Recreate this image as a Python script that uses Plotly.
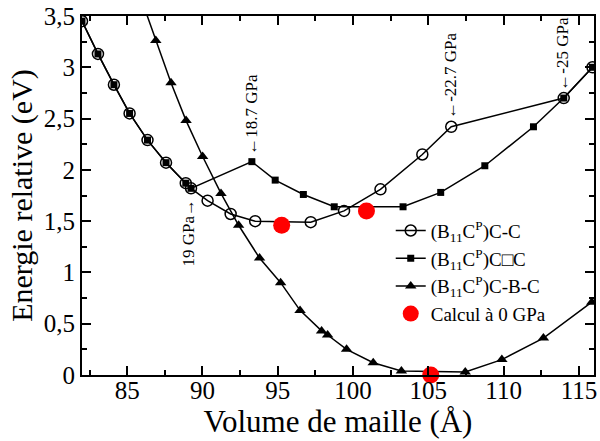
import plotly.graph_objects as go

# ---- data ----
cc_x = [82.0, 83.06, 84.12, 85.16, 86.35, 87.58, 88.89, 89.24, 90.34, 91.87,
        93.50, 97.19, 99.40, 101.82, 104.60, 106.52, 113.99, 115.9]
cc_y = [3.45, 3.13, 2.83, 2.55, 2.29, 2.07, 1.87, 1.82, 1.70, 1.57,
        1.50, 1.49, 1.60, 1.81, 2.15, 2.42, 2.70, 3.00]

cvc_x = [82.0, 83.06, 84.12, 85.16, 86.35, 87.58, 88.89, 89.24, 93.28, 94.83,
         96.70, 98.75, 103.32, 105.82, 108.75, 111.98, 113.99, 115.9]
cvc_y = [3.45, 3.13, 2.83, 2.55, 2.29, 2.07, 1.87, 1.82, 2.08, 1.90,
         1.76, 1.64, 1.64, 1.78, 2.04, 2.42, 2.70, 3.00]

cbc_x = [85.9, 86.90, 87.91, 88.91, 90.01, 91.23, 92.40, 93.79, 95.19, 96.48,
         97.91, 98.31, 99.57, 101.34, 103.21, 107.45, 109.88, 112.64, 115.85]
cbc_y = [3.68, 3.26, 2.85, 2.48, 2.13, 1.77, 1.46, 1.14, 0.90, 0.63,
         0.43, 0.39, 0.25, 0.12, 0.04, 0.03, 0.15, 0.36, 0.71]

calc_x = [95.26, 100.89, 105.16]
calc_y = [1.46, 1.60, 0.0]

ann_text = ["19 GPa\u2192", "\u219018.7 GPa", "\u2190-22.7 GPa", "\u2190-25 GPa"]
ann_x = [89.04, 93.24, 106.46, 113.92]
ann_y = [1.39, 2.54, 2.92, 3.13]

x_ticks = [85, 90, 95, 100, 105, 110, 115]
y_ticks = [0, 0.5, 1, 1.5, 2, 2.5, 3, 3.5]
y_ticklabels = ["0", "0,5", "1", "1,5", "2", "2,5", "3", "3,5"]

FONT = "Liberation Serif"

fig = go.Figure()
fig.add_trace(go.Scatter(
    x=cc_x, y=cc_y, mode="lines+markers",
    name="(B<sub>11</sub>C<sup>P</sup>)C-C",
    line=dict(color="black", width=1.5),
    marker=dict(symbol="circle-open", size=11, color="black", line=dict(width=1.5)),
))
fig.add_trace(go.Scatter(
    x=cvc_x, y=cvc_y, mode="lines+markers",
    name="(B<sub>11</sub>C<sup>P</sup>)C\u25a1C",
    line=dict(color="black", width=1.5),
    marker=dict(symbol="square", size=7, color="black"),
))
fig.add_trace(go.Scatter(
    x=cbc_x, y=cbc_y, mode="lines+markers",
    name="(B<sub>11</sub>C<sup>P</sup>)C-B-C",
    line=dict(color="black", width=1.5),
    marker=dict(symbol="triangle-up", size=10, color="black"),
))
fig.add_trace(go.Scatter(
    x=calc_x, y=calc_y, mode="markers",
    name="Calcul \u00e0 0 GPa",
    marker=dict(symbol="circle", size=17, color="#ff0000"),
    cliponaxis=False,
))

for t, x, y in zip(ann_text, ann_x, ann_y):
    fig.add_annotation(x=x, y=y, xref="x", yref="y", text=t, showarrow=False,
                       textangle=-90, font=dict(family=FONT, size=17, color="black"))

axis_common = dict(
    showline=True, linecolor="black", linewidth=2, mirror="allticks",
    ticks="inside", tickcolor="black", tickwidth=1.5, ticklen=9,
    showgrid=False, zeroline=False, automargin=False,
    tickfont=dict(family=FONT, size=25, color="black"),
)

fig.update_xaxes(
    range=[82, 116], tickvals=x_ticks, ticklabelstandoff=-8,
    minor=dict(ticks="inside", dtick=2.5, ticklen=5, tickcolor="black", tickwidth=1.5),
    title=dict(text="Volume de maille (\u00c5)", font=dict(family=FONT, size=31, color="black"),
               standoff=6),
    **axis_common,
)
fig.update_yaxes(
    range=[0, 3.5], tickvals=y_ticks, ticktext=y_ticklabels,
    minor=dict(ticks="inside", dtick=0.25, ticklen=5, tickcolor="black", tickwidth=1.5),
    title=dict(text="Energie relative (eV)", font=dict(family=FONT, size=30, color="black"),
               standoff=2),
    **axis_common,
)

fig.update_layout(
    width=600, height=441,
    margin=dict(l=82, r=6, t=16, b=66),
    plot_bgcolor="white", paper_bgcolor="white",
    font=dict(family=FONT, color="black"),
    legend=dict(x=0.603, y=0.455, xanchor="left", yanchor="top",
                bgcolor="rgba(0,0,0,0)", font=dict(family=FONT, size=19, color="black"),
                tracegroupgap=0),
)

fig.write_html("out.html", config={"displayModeBar": False},
               post_script="document.body.style.margin='0';document.body.style.overflow='hidden';")
